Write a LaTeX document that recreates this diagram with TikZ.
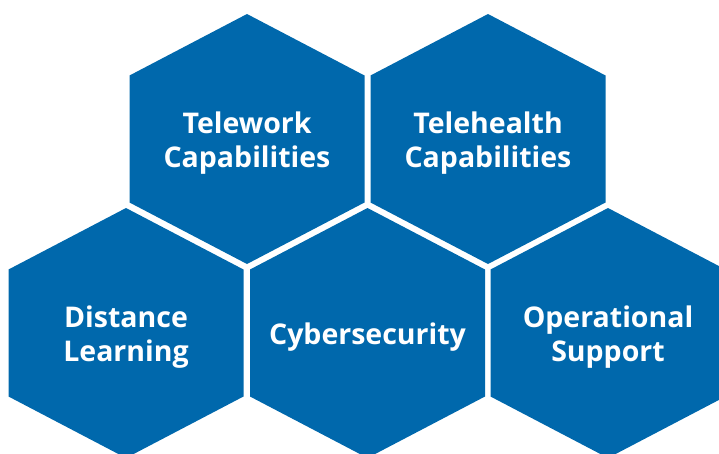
\documentclass[tikz,border=0pt]{standalone}
\usepackage{fontspec}
\setmainfont{Open Sans}
\usetikzlibrary{backgrounds}
\definecolor{hexblue}{RGB}{0,104,172}
\begin{document}
\begin{tikzpicture}[
  x=1pt, y=-1pt,
  every node/.style={text=white, align=center,
    font=\fontsize{28.5}{34}\selectfont\bfseries},
  hexcell/.style={fill=hexblue, yshift=4pt}
  ]
\useasboundingbox (0,0) rectangle (719,453);

% Top row
\node (tw) at (247,143) {Telework\\Capabilities};
\node (th) at (488,143) {Telehealth\\Capabilities};
% Bottom row
\node (dl) at (126,337) {Distance\\Learning};
\node (cs) at (367.5,337) {Cybersecurity};
\node (os) at (608,337) {Operational\\Support};

% Hexagons behind the labels
\begin{scope}[on background layer]
  \foreach \n in {tw,th,dl,cs,os}
    \fill[shift={(\n.center)}, hexcell] (0,-125) -- (117.5,-63.5) -- (117.5,63.5)
      -- (0,125) -- (-117.5,63.5) -- (-117.5,-63.5) -- cycle;
\end{scope}

\end{tikzpicture}
\end{document}
